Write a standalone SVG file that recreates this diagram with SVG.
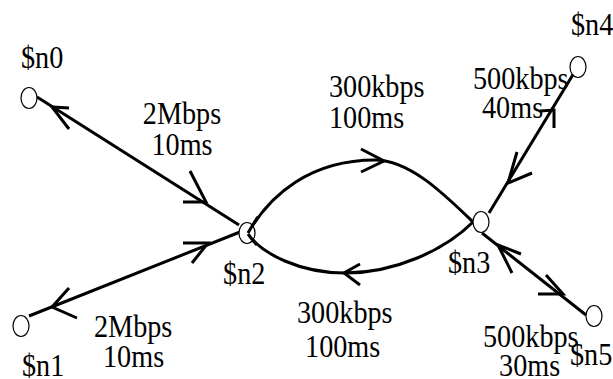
<svg xmlns="http://www.w3.org/2000/svg" width="613" height="379" viewBox="0 0 613 379">
  <style>
    /* narrow Times-like labels: x positions are given in the scaled (0.91) space */
    text { font-family: "Liberation Serif", "Times New Roman", serif; font-size: 31px; fill: #000; transform: scale(0.91, 1); }
    .node { fill: #fff; stroke: #000; stroke-width: 1.2; }
    .link { fill: none; stroke: #000; stroke-width: 3; }
    .head { fill: none; stroke: #000; stroke-width: 3; stroke-linejoin: miter; }
    .mid { text-anchor: middle; }
  </style>
  <rect width="613" height="379" fill="#fff"/>

  <!-- links and their direction arrows -->
  <g id="links">
    <!-- n0 - n2 duplex -->
    <line class="link" x1="37" y1="97" x2="239" y2="225"/>
    <polyline class="head" points="69,108 52,107 69,129"/>
    <polyline class="head" points="183,202 206,202 190,171"/>
    <!-- n1 - n2 duplex -->
    <line class="link" x1="29" y1="316" x2="240" y2="232"/>
    <polyline class="head" points="69,288 52,307 77,318"/>
    <polyline class="head" points="183,243 208,243 192,263"/>
    <!-- n2 -> n3 upper arc -->
    <path class="link" d="M248,233 C270,195 310,160 375,160 C410,160 445,195 473,222"/>
    <polyline class="head" points="361,149 384,161 361,172"/>
    <!-- n3 -> n2 lower arc -->
    <path class="link" d="M473,222 C445,250 395,273 345,273 C300,273 262,254 248,234"/>
    <polyline class="head" points="360,264 344,273 360,285"/>
    <!-- n3 - n4 duplex -->
    <line class="link" x1="489" y1="213" x2="577" y2="68"/>
    <polyline class="head" points="517,152 508,183 532,173"/>
    <polyline class="head" points="540,111 554,110 554,128"/>
    <!-- n3 - n5 duplex -->
    <line class="link" x1="482" y1="233" x2="586" y2="315"/>
    <polyline class="head" points="521,254 498,245 512,273"/>
    <polyline class="head" points="538,294 563,294 546,275"/>
  </g>

  <!-- link labels -->
  <g id="link-labels">
    <text class="mid" x="200" y="124">2Mbps</text>
    <text class="mid" x="200" y="155">10ms</text>
    <text x="103.3" y="337">2Mbps</text>
    <text x="113.2" y="367">10ms</text>
    <text x="361.5" y="97">300kbps</text>
    <text x="361.5" y="128">100ms</text>
    <text x="326.4" y="323">300kbps</text>
    <text x="335.2" y="357">100ms</text>
    <text x="519.8" y="89">500kbps</text>
    <text x="529.7" y="118">40ms</text>
    <text x="530.8" y="347">500kbps</text>
    <text x="548.4" y="376">30ms</text>
  </g>

  <g id="n0">
    <ellipse class="node" cx="29" cy="98" rx="8" ry="10.5"/>
    <text x="23.1" y="68">$n0</text>
  </g>
  <g id="n1">
    <ellipse class="node" cx="21" cy="326" rx="8" ry="10.5"/>
    <text x="24.2" y="376">$n1</text>
  </g>
  <g id="n2">
    <ellipse class="node" cx="247" cy="233" rx="8" ry="10.5"/>
    <text x="245.1" y="284">$n2</text>
  </g>
  <g id="n3">
    <ellipse class="node" cx="481" cy="222" rx="8" ry="10.5"/>
    <text x="492.3" y="273">$n3</text>
  </g>
  <g id="n4">
    <ellipse class="node" cx="578" cy="67" rx="8" ry="10.5"/>
    <text x="627.5" y="35">$n4</text>
  </g>
  <g id="n5">
    <ellipse class="node" cx="594" cy="316" rx="8" ry="10.5"/>
    <text x="626.4" y="365">$n5</text>
  </g>

  <!-- arc ends drawn over the node outline -->
  <g id="arc-ends">
    <path class="link" d="M248,233 C252,226 255,221 258,217"/>
    <path class="link" d="M248,234 C251,238 254,242 257,245"/>
  </g>
</svg>
